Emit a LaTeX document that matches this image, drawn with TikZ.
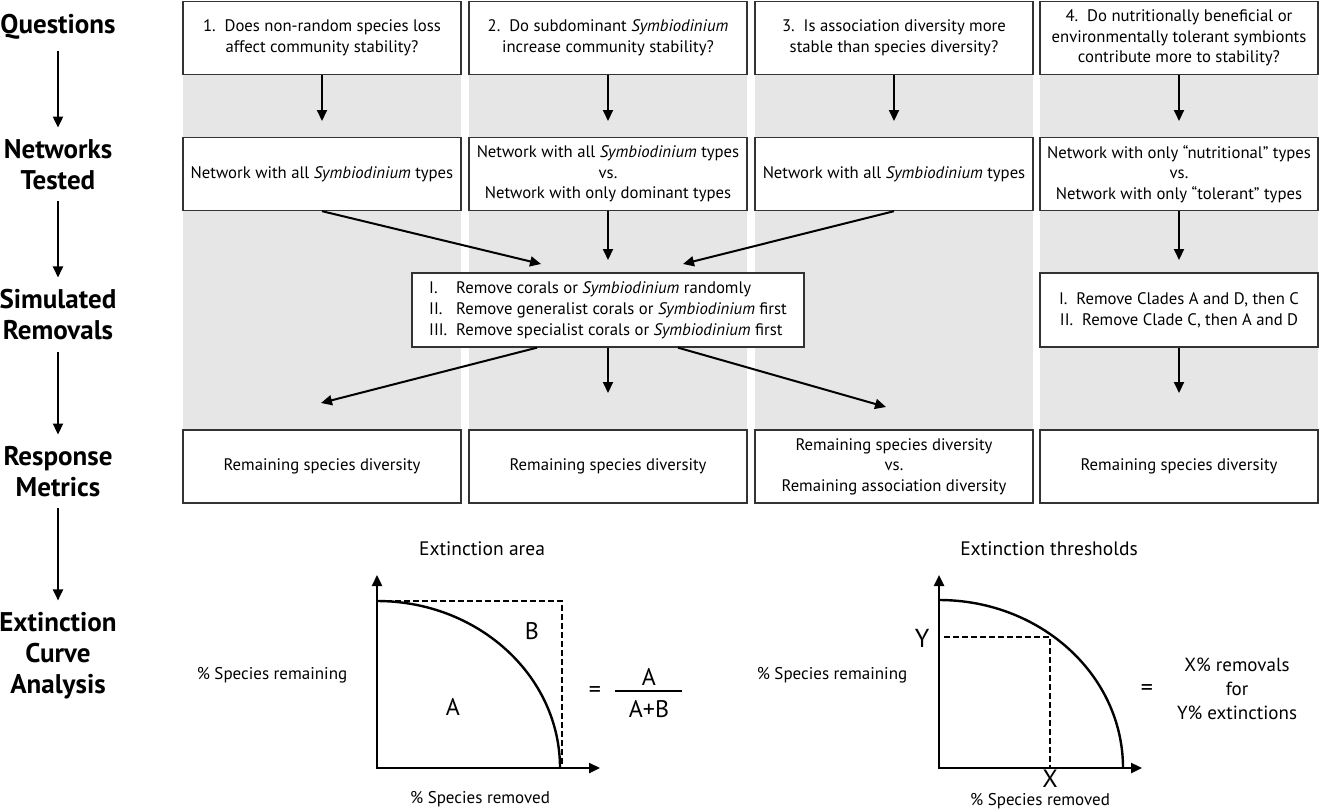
\documentclass[tikz,border=0pt]{standalone}
\usepackage{fontspec}
\setmainfont{PT Sans}
\usetikzlibrary{arrows.meta, positioning, calc}
\definecolor{panelgray}{HTML}{E6E6E6}
\definecolor{boxline}{HTML}{333333}
\tikzset{
  box/.style={draw=boxline, line width=1.3pt, fill=white, minimum width=278pt, minimum height=73pt, align=center, inner sep=1pt, font=\fontsize{16.7}{20.5}\selectfont},
  arr/.style={-{Triangle[length=11pt,width=10pt]}, line width=2pt},
  rowlabel/.style={font=\fontsize{27}{31}\selectfont\bfseries, align=center, inner sep=0pt},
  plottitle/.style={font=\fontsize{19.5}{22}\selectfont},
  plottext/.style={font=\fontsize{17}{20}\selectfont},
  bigletter/.style={font=\fontsize{24}{24}\selectfont},
  dashline/.style={dash pattern=on 6pt off 3pt, line width=2.4pt},
  axis/.style={arr, line width=2.4pt},
}
\newcommand{\sym}{\textit{Symbiodinium}}

\begin{document}
\begin{tikzpicture}[x=1pt, y=-1pt]
  \useasboundingbox (0,0) rectangle (1319,809);

  % gray column panels
  \foreach \cx in {322,608,894,1179}
    \fill[panelgray] (\cx-139,60) rectangle (\cx+139,440);

  % row labels
  \node[rowlabel] (lq) at (58,27) {Questions};
  \node[rowlabel] (ln) at (58,165) {Networks\\Tested};
  \node[rowlabel] (ls) at (58,315) {Simulated\\Removals};
  \node[rowlabel] (lr) at (58,472) {Response\\Metrics};
  \node[rowlabel] (le) at (58,656) {Extinction\\Curve\\Analysis};
  \foreach \a/\b in {lq/ln, ln/ls, ls/lr, lr/le}
    \draw[arr, shorten <=11pt, shorten >=12pt] (\a) -- (\b);

  % questions
  \node[box] (q1) at (322,38) {1.\ \ Does non-random species loss\\affect community stability?};
  \node[box] (q2) at (608,38) {2.\ \ Do subdominant \sym\\increase community stability?};
  \node[box] (q3) at (894,38) {3.\ \ Is association diversity more\\stable than species diversity?};
  \node[box] (q4) at (1179,38) {4.\ \ Do nutritionally beneficial or\\environmentally tolerant symbionts\\contribute more to stability?};

  % networks tested
  \node[box] (n1) at (322,174) {Network with all \sym{} types};
  \node[box] (n2) at (608,174) {Network with all \sym{} types\\vs.\\Network with only dominant types};
  \node[box] (n3) at (894,174) {Network with all \sym{} types};
  \node[box] (n4) at (1179,174) {Network with only “nutritional” types\\vs.\\Network with only “tolerant” types};

  % simulated removals
  \node[box, minimum width=392pt, minimum height=74pt, font=\fontsize{16.7}{21}\selectfont] (s) at (608,310) {%
    \begin{tabular}{@{}l@{\ \ }l@{}}
      I. & Remove corals or \sym{} randomly\\
      II. & Remove generalist corals or \sym{} first\\
      III. & Remove specialist corals or \sym{} first
    \end{tabular}};
  \node[box, minimum height=74pt, font=\fontsize{16.7}{21}\selectfont] (s4) at (1179,310) {I.\ \ Remove Clades A and D, then C\\II.\ \ Remove Clade C, then A and D};

  % response metrics
  \node[box] (r1) at (322,466.5) {Remaining species diversity};
  \node[box] (r2) at (608,466.5) {Remaining species diversity};
  \node[box] (r3) at (894,466.5) {Remaining species diversity\\vs.\\Remaining association diversity};
  \node[box] (r4) at (1179,466.5) {Remaining species diversity};

  % arrow ends
  \coordinate (t1) at (322,121);
  \coordinate (t2) at (608,121);
  \coordinate (t3) at (894,121);
  \coordinate (t4) at (1179,121);
  \coordinate (sl) at (541,264);
  \coordinate (sm) at (608,260);
  \coordinate (sr) at (683,264);
  \coordinate (s4t) at (1179,260);
  \coordinate (rl) at (321,403);
  \coordinate (rm) at (608,393);
  \coordinate (rr) at (886,407);
  \coordinate (r4t) at (1179,393);

  \draw[arr] (q1.south) -- (t1);
  \draw[arr] (q2.south) -- (t2);
  \draw[arr] (q3.south) -- (t3);
  \draw[arr] (q4.south) -- (t4);
  \draw[arr] (n1.south) -- (sl);
  \draw[arr] (n2.south) -- (sm);
  \draw[arr] (n3.south) -- (sr);
  \draw[arr] (n4.south) -- (s4t);
  \draw[arr] (s.south -| 537,0) -- (rl);
  \draw[arr] (s.south) -- (rm);
  \draw[arr] (s.south -| 678,0) -- (rr);
  \draw[arr] (s4.south) -- (r4t);

  % extinction area plot
  \node[plottitle] at (482,549) {Extinction area};
  \node[plottext] at (272,675) {\% Species remaining};
  \node[plottext] at (480,799) {\% Species removed};
  \draw[dashline] (377,601) -- (562,601) -- (562,768);
  \draw[line width=2.4pt] (377,601) arc[start angle=-90, end angle=0, x radius=183, y radius=167];
  \draw[axis] (377,769) -- (377,575);
  \draw[axis] (376,768) -- (600,768);
  \node[bigletter] at (532,631) {B};
  \node[bigletter] at (453,707) {A};
  \node[bigletter] at (595,692) {=};
  \node[bigletter] at (649,677) {A};
  \draw[line width=1.8pt] (615,691) -- (682,691);
  \node[bigletter] at (649,709) {A+B};

  % extinction threshold plot
  \node[plottitle] at (1049,549) {Extinction thresholds};
  \node[plottext, inner sep=0pt] at (1040,801) {\% Species removed};
  \node[plottext] at (832,675) {\% Species remaining};
  \draw[line width=2.4pt] (939,600) arc[start angle=-90, end angle=0, x radius=184, y radius=168];
  \draw[dashline] (944,637) -- (1050,637) -- (1050,768);
  \draw[axis] (939,769) -- (939,575);
  \draw[axis] (938,768) -- (1142,768);
  \node[bigletter, font=\fontsize{26}{26}\selectfont] at (922,638) {Y};
  \node[bigletter, font=\fontsize{25}{25}\selectfont, inner sep=0pt] at (1050,779) {X};
  \node[bigletter] at (1147,690) {=};
  \node[plottext, font=\fontsize{19}{24}\selectfont, align=center] at (1237,689) {X\% removals\\for\\Y\% extinctions};
\end{tikzpicture}
\end{document}
